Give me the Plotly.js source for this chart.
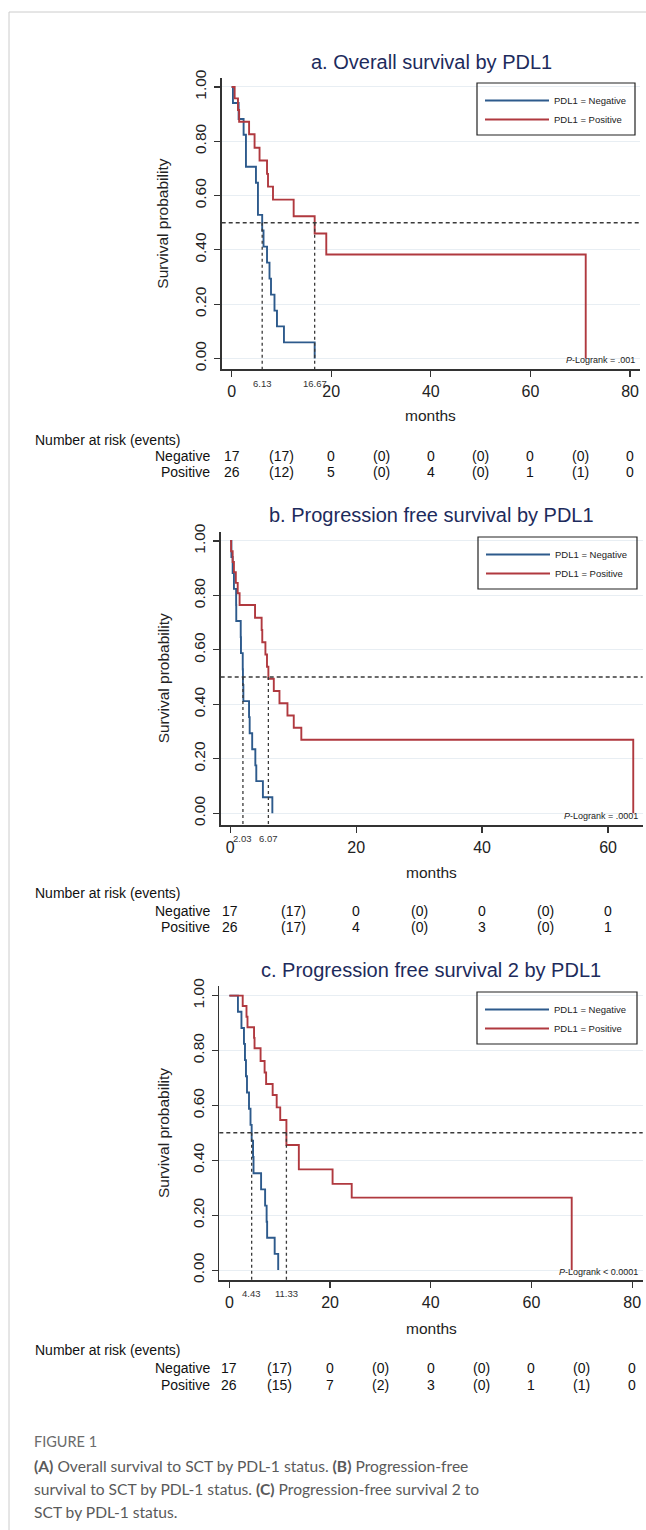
<!DOCTYPE html>
<html>
<head>
<meta charset="utf-8">
<script src="https://cdn.plot.ly/plotly-3.0.1.min.js"></script>
<style>
html,body{margin:0;padding:0;background:#ffffff;}
#chart{width:646px;height:1530px;}
</style>
</head>
<body>
<div id="chart"></div>
<script>
// ---------------- DATA ----------------
// Panel a: Overall survival by PDL1 (months, survival probability)
const osNegTime = [0, 0.26, 1.4, 2.4, 2.87, 4.88, 5.28, 6.13, 6.4, 7.1, 7.6, 7.9, 8.6, 9.1, 10.5, 16.67];
const osNegSurv = [1, 0.941, 0.882, 0.824, 0.706, 0.647, 0.529, 0.471, 0.412, 0.353, 0.294, 0.235, 0.176, 0.118, 0.059, 0];
const osPosTime = [0, 0.6, 1.27, 1.5, 3.5, 4.6, 5.6, 7.1, 7.3, 8.3, 12.45, 16.67, 19.0, 71.1];
const osPosSurv = [1, 0.958, 0.915, 0.872, 0.826, 0.776, 0.729, 0.680, 0.633, 0.585, 0.524, 0.460, 0.383, 0];
const osMedians = [6.13, 16.67];
const osMedianLabels = ['6.13', '16.67'];
const osPValue = '<i>P</i>-Logrank = .001';
const osRiskTimes = [0, 10, 20, 30, 40, 50, 60, 70, 80];
const osRiskNeg = ['17', '(17)', '0', '(0)', '0', '(0)', '0', '(0)', '0'];
const osRiskPos = ['26', '(12)', '5', '(0)', '4', '(0)', '1', '(1)', '0'];
const osTicks = [0, 20, 40, 60, 80];

// Panel b: Progression free survival by PDL1
const pfsNegTime = [0, 0.2, 0.4, 0.6, 0.95, 0.97, 1.68, 1.72, 2.0, 2.03, 2.1, 3.0, 3.1, 3.5, 4.0, 4.15, 5.2, 6.7];
const pfsNegSurv = [1, 0.941, 0.882, 0.824, 0.765, 0.706, 0.647, 0.588, 0.529, 0.471, 0.412, 0.353, 0.294, 0.235, 0.176, 0.118, 0.059, 0];
const pfsPosTime = [0, 0.15, 0.4, 0.6, 0.9, 1.2, 1.5, 3.95, 5.0, 5.1, 5.6, 5.85, 6.07, 6.93, 7.83, 9.1, 10.1, 11.3, 64.0];
const pfsPosSurv = [1, 0.962, 0.923, 0.885, 0.846, 0.808, 0.765, 0.718, 0.673, 0.628, 0.583, 0.538, 0.494, 0.449, 0.404, 0.359, 0.314, 0.270, 0];
const pfsMedians = [2.03, 6.07];
const pfsMedianLabels = ['2.03', '6.07'];
const pfsPValue = '<i>P</i>-Logrank = .0001';
const pfsRiskTimes = [0, 10, 20, 30, 40, 50, 60];
const pfsRiskNeg = ['17', '(17)', '0', '(0)', '0', '(0)', '0'];
const pfsRiskPos = ['26', '(17)', '4', '(0)', '3', '(0)', '1'];
const pfsTicks = [0, 20, 40, 60];

// Panel c: Progression free survival 2 by PDL1
const pfs2NegTime = [0, 1.7, 2.4, 2.9, 3.1, 3.3, 3.5, 3.9, 4.2, 4.43, 4.7, 4.8, 6.3, 7.1, 7.4, 7.5, 9.0, 9.7];
const pfs2NegSurv = [1, 0.941, 0.882, 0.824, 0.765, 0.706, 0.647, 0.588, 0.529, 0.471, 0.412, 0.353, 0.294, 0.235, 0.176, 0.118, 0.059, 0];
const pfs2PosTime = [0, 2.65, 3.4, 3.6, 4.9, 5.0, 6.2, 7.0, 7.3, 8.6, 9.4, 10.1, 11.33, 13.8, 20.5, 24.3, 68.0];
const pfs2PosSurv = [1, 0.962, 0.923, 0.885, 0.846, 0.808, 0.762, 0.720, 0.678, 0.638, 0.593, 0.547, 0.456, 0.367, 0.314, 0.264, 0];
const pfs2Medians = [4.43, 11.33];
const pfs2MedianLabels = ['4.43', '11.33'];
const pfs2PValue = '<i>P</i>-Logrank &lt; 0.0001';
const pfs2RiskTimes = [0, 10, 20, 30, 40, 50, 60, 70, 80];
const pfs2RiskNeg = ['17', '(17)', '0', '(0)', '0', '(0)', '0', '(0)', '0'];
const pfs2RiskPos = ['26', '(15)', '7', '(2)', '3', '(0)', '1', '(1)', '0'];
const pfs2Ticks = [0, 20, 40, 60, 80];

const panelTitles = ['a. Overall survival by PDL1', 'b. Progression free survival by PDL1', 'c. Progression free survival 2 by PDL1'];
const seriesNames = ['PDL1 = Negative', 'PDL1 = Positive'];
const groupLabels = ['Negative', 'Positive'];
const yTicks = [0, 0.2, 0.4, 0.6, 0.8, 1.0];
const captionHead = 'FIGURE 1';
const captionLines = [
  '<b>(A)</b> Overall survival to SCT by PDL-1 status. <b>(B)</b> Progression-free',
  'survival to SCT by PDL-1 status. <b>(C)</b> Progression-free survival 2 to',
  'SCT by PDL-1 status.'
];

// ---------------- LAYOUT HELPERS ----------------
const W = 646, H = 1530;
const px = v => v / W;
const py = v => 1 - v / H;
const FONT = 'Liberation Sans, Arial, Helvetica, sans-serif';
const BLUE = '#2d5a8c';
const RED = '#b0393f';
const TITLE_COLOR = '#1d2b5c';
const DASH = '#3a3a3a';

const panels = [
  { negT: osNegTime, negS: osNegSurv, posT: osPosTime, posS: osPosSurv, med: osMedians, medLab: osMedianLabels,
    p: osPValue, rt: osRiskTimes, rn: osRiskNeg, rp: osRiskPos, ticks: osTicks,
    xr: [-2.0, 82.0], yr: [-0.040, 1.033], xd: [221.7, 640], yd: [78, 369.3],
    titleY: 62, monthsY: 416, medY: 383, pY: 360, headY: 440, negY: 456, posY: 472,
    leg: [477, 83, 635, 135] },
  { negT: pfsNegTime, negS: pfsNegSurv, posT: pfsPosTime, posS: pfsPosSurv, med: pfsMedians, medLab: pfsMedianLabels,
    p: pfsPValue, rt: pfsRiskTimes, rn: pfsRiskNeg, rp: pfsRiskPos, ticks: pfsTicks,
    xr: [-1.5, 65.5], yr: [-0.043, 1.034], xd: [220.7, 642.7], yd: [531.7, 825],
    titleY: 515, monthsY: 872, medY: 838, pY: 816, headY: 893, negY: 911, posY: 927,
    leg: [478, 537, 637, 589] },
  { negT: pfs2NegTime, negS: pfs2NegSurv, posT: pfs2PosTime, posS: pfs2PosSurv, med: pfs2Medians, medLab: pfs2MedianLabels,
    p: pfs2PValue, rt: pfs2RiskTimes, rn: pfs2RiskNeg, rp: pfs2RiskPos, ticks: pfs2Ticks,
    xr: [-2.0, 82.1], yr: [-0.036, 1.035], xd: [219.3, 642.7], yd: [986, 1280],
    titleY: 970, monthsY: 1328, medY: 1293, pY: 1272, headY: 1350, negY: 1368, posY: 1385,
    leg: [477, 992, 637, 1044] }
];

const traces = [];
const shapes = [];
const annotations = [];
const layout = {
  width: W, height: H,
  margin: { l: 0, r: 0, t: 0, b: 0 },
  paper_bgcolor: '#ffffff',
  plot_bgcolor: '#ffffff',
  font: { family: FONT, color: '#222222' },
  showlegend: true,
  shapes: shapes,
  annotations: annotations
};

panels.forEach((P, i) => {
  const n = i === 0 ? '' : String(i + 1);
  const xa = 'x' + n, ya = 'y' + n;
  const legName = 'legend' + n;

  traces.push({
    x: P.negT, y: P.negS, type: 'scatter', mode: 'lines', name: seriesNames[0],
    line: { color: BLUE, width: 1.9, shape: 'hv' },
    xaxis: xa, yaxis: ya, legend: legName, legendgroup: 'neg' + i, hoverinfo: 'x+y'
  });
  traces.push({
    x: P.posT, y: P.posS, type: 'scatter', mode: 'lines', name: seriesNames[1],
    line: { color: RED, width: 1.9, shape: 'hv' },
    xaxis: xa, yaxis: ya, legend: legName, legendgroup: 'pos' + i, hoverinfo: 'x+y'
  });

  layout['xaxis' + n] = {
    domain: [px(P.xd[0]), px(P.xd[1])], range: P.xr, anchor: ya,
    tickvals: P.ticks, ticktext: P.ticks.map(String),
    ticks: 'outside', ticklen: 6, tickwidth: 1.2, tickcolor: '#333333',
    showline: true, linecolor: '#333333', linewidth: 1.5,
    showgrid: false, zeroline: false,
    tickfont: { family: FONT, size: 16, color: '#222222' }, ticklabelstandoff: 1
  };
  layout['yaxis' + n] = {
    domain: [py(P.yd[1]), py(P.yd[0])], range: P.yr, anchor: xa,
    tickvals: yTicks, tickformat: '.2f', tickangle: -90,
    ticks: 'outside', ticklen: 6, tickwidth: 1.2, tickcolor: '#333333',
    showline: true, linecolor: '#333333', linewidth: 1.5,
    showgrid: true, gridcolor: '#e8eef3', gridwidth: 1, zeroline: false,
    tickfont: { family: FONT, size: 15.5, color: '#222222' }, ticklabelstandoff: 2
  };

  // legend placed inside a drawn box
  layout[legName] = {
    x: px(P.leg[0] + 3), y: py(P.leg[1] + 3), xanchor: 'left', yanchor: 'top',
    bgcolor: 'rgba(0,0,0,0)', borderwidth: 0,
    font: { family: FONT, size: 9.5, color: '#222222' },
    itemwidth: 64, tracegroupgap: 4, traceorder: 'normal'
  };
  shapes.push({ type: 'rect', xref: 'paper', yref: 'paper',
    x0: px(P.leg[0]), x1: px(P.leg[2]), y0: py(P.leg[3]), y1: py(P.leg[1]),
    line: { color: '#222222', width: 1.2 }, fillcolor: 'rgba(0,0,0,0)', layer: 'above' });

  // reference lines: median survival
  shapes.push({ type: 'line', xref: xa + ' domain', yref: ya, x0: 0, x1: 1, y0: 0.5, y1: 0.5,
    line: { color: DASH, width: 1.5, dash: '4px,3px' }, layer: 'above' });
  P.med.forEach(m => {
    shapes.push({ type: 'line', xref: xa, yref: ya, x0: m, x1: m, y0: 0.5, y1: P.yr[0],
      line: { color: DASH, width: 1.3, dash: '3px,3px' }, layer: 'above' });
  });

  // panel title
  annotations.push({ text: panelTitles[i], xref: 'paper', yref: 'paper', x: px(431), y: py(P.titleY),
    xanchor: 'center', yanchor: 'middle', showarrow: false,
    font: { family: FONT, size: 20, color: TITLE_COLOR } });
  // axis titles
  annotations.push({ text: 'Survival probability', xref: 'paper', yref: 'paper', x: px(163),
    y: py((P.yd[0] + P.yd[1]) / 2), textangle: -90, xanchor: 'center', yanchor: 'middle', showarrow: false,
    font: { family: FONT, size: 15.5, color: '#222222' } });
  annotations.push({ text: 'months', xref: 'paper', yref: 'paper', x: px((P.xd[0] + P.xd[1]) / 2), y: py(P.monthsY),
    xanchor: 'center', yanchor: 'middle', showarrow: false,
    font: { family: FONT, size: 15.5, color: '#222222' } });
  // median labels
  P.med.forEach((m, k) => {
    annotations.push({ text: P.medLab[k], xref: xa, yref: 'paper', x: m, y: py(P.medY),
      xanchor: 'center', yanchor: 'middle', showarrow: false,
      font: { family: FONT, size: 9.5, color: '#333333' } });
  });
  // log-rank p
  annotations.push({ text: P.p, xref: 'paper', yref: 'paper', x: px(P.xd[1] - 3), y: py(P.pY),
    xanchor: 'right', yanchor: 'middle', showarrow: false,
    font: { family: FONT, size: 9, color: '#222222' } });
  // number at risk table
  annotations.push({ text: 'Number at risk (events)', xref: 'paper', yref: 'paper', x: px(33), y: py(P.headY),
    xanchor: 'left', yanchor: 'middle', showarrow: false,
    font: { family: FONT, size: 14, color: '#111111' } });
  [[groupLabels[0], P.rn, P.negY], [groupLabels[1], P.rp, P.posY]].forEach(row => {
    annotations.push({ text: row[0], xref: 'paper', yref: 'paper', x: px(212), y: py(row[2]),
      xanchor: 'right', yanchor: 'middle', showarrow: false,
      font: { family: FONT, size: 14, color: '#111111' } });
    row[1].forEach((v, k) => {
      annotations.push({ text: v, xref: xa, yref: 'paper', x: P.rt[k], y: py(row[2]),
        xanchor: 'center', yanchor: 'middle', showarrow: false,
        font: { family: FONT, size: 14, color: '#111111' } });
    });
  });
});

// page frame lines
shapes.push({ type: 'line', xref: 'paper', yref: 'paper', x0: px(9), x1: px(9), y0: 0, y1: py(12),
  line: { color: '#cccccc', width: 1 } });
shapes.push({ type: 'line', xref: 'paper', yref: 'paper', x0: px(9), x1: 1, y0: py(12), y1: py(12),
  line: { color: '#cccccc', width: 1 } });

// caption
annotations.push({ text: captionHead, xref: 'paper', yref: 'paper', x: px(32), y: py(1441),
  xanchor: 'left', yanchor: 'middle', showarrow: false,
  font: { family: 'Lato, Open Sans, sans-serif', size: 14.5, color: '#6b6b6b' } });
captionLines.forEach((t, k) => {
  annotations.push({ text: t, xref: 'paper', yref: 'paper', x: px(32), y: py(1466 + 23 * k),
    xanchor: 'left', yanchor: 'middle', showarrow: false, align: 'left',
    font: { family: 'Lato, Open Sans, sans-serif', size: 15.6, color: '#5a5a5a' } });
});

Plotly.newPlot('chart', traces, layout, { displayModeBar: false, staticPlot: true });
</script>
</body>
</html>
